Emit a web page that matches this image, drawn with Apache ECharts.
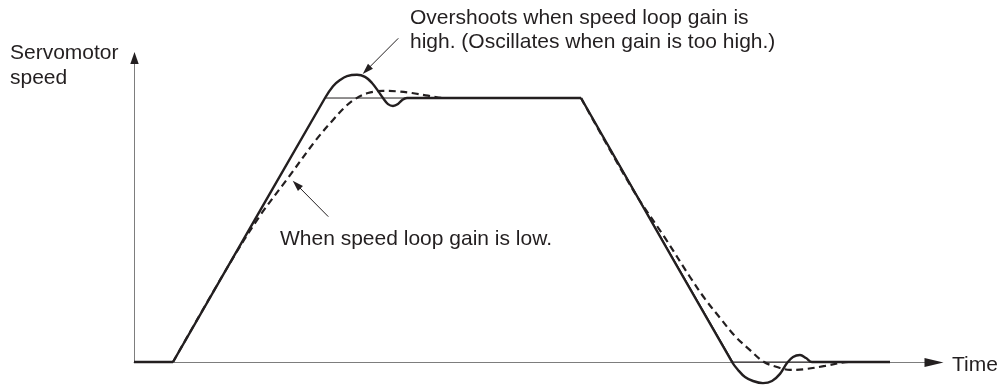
<!DOCTYPE html>
<html>
<head>
<meta charset="utf-8">
<script src="https://cdn.jsdelivr.net/npm/echarts@6/dist/echarts.min.js"></script>
<style>
  html, body { margin: 0; padding: 0; background: #ffffff; }
  #chart { width: 1000px; height: 385px; }
</style>
</head>
<body>
<div id="chart"></div>
<script>
// Speed profiles as [time, speed] pairs; speed 100 = commanded top speed.
const commandSpeed = [
  [0, 0], [3.9, 0], [19.1, 100], [44.7, 100], [59.9, 0], [75.6, 0]
];

// Response with a high speed loop gain, in pieces split at the sharp corners:
// standstill, acceleration with overshoot and ring, deceleration with undershoot.
const highGainStart = [[0, 0], [3.9, 0]];
const highGainAccel = [
  [3.9, 0], [19.1, 100], [19.9, 104.5], [20.6, 106.8], [21.3, 108.3],
  [22.3, 108.8], [23.1, 108.0], [23.8, 105.7], [24.4, 102.7], [24.9, 100],
  [25.4, 97.7], [25.9, 97.0], [26.4, 97.7], [26.8, 99.2], [27.3, 100], [44.7, 100]
];
const highGainDecel = [
  [44.7, 100], [59.8, 0], [60.4, -3.0], [61.1, -5.7], [61.9, -7.2], [62.9, -8.0],
  [63.8, -7.2], [64.6, -4.5], [65.3, -0.4], [65.9, 1.9], [66.6, 2.65],
  [67.2, 1.5], [67.8, 0], [75.6, 0]
];

// Response with a low speed loop gain: slow, lagging approach.
const lowGainStart = [[0, 0], [3.9, 0]];
const lowGainAccel = [
  [3.9, 0], [9.6, 37.5], [12.5, 54.9], [15.4, 69.7], [18.2, 84.1],
  [19.9, 91.7], [21.1, 96.6], [22.1, 99.6], [23.4, 101.9], [24.9, 102.7],
  [26.4, 102.5], [27.8, 101.9], [29.4, 100.9], [31.1, 100], [44.7, 100]
];
const lowGainDecel = [
  [44.7, 100], [49.9, 65.2], [53.1, 47.0], [55.6, 32.2], [57.1, 23.9],
  [58.6, 16.7], [60.1, 9.8], [61.6, 4.5], [63.0, 0], [64.3, -1.9],
  [65.6, -3.0], [67.1, -2.7], [69.1, -1.5], [71.6, 0], [75.6, 0]
];

const yAxisTitle = ['Servomotor', 'speed'];
const xAxisTitle = 'Time';
const highGainNote = ['Overshoots when speed loop gain is', 'high. (Oscillates when gain is too high.)'];
const lowGainNote = 'When speed loop gain is low.';

// Points on the curves that the callout arrows point at.
const highGainNoteTip = [22.87, 109.1];
const lowGainNoteTip = [15.87, 68.7];

const INK = '#231f20';
const AXIS_GREY = '#7d7d7d';
const FONT = '21px "Liberation Sans", Arial, Helvetica, sans-serif';
const X_MAX = 80;
const Y_MAX = 115.2;

// Join pieces into one data list with a gap between them, so each piece is
// smoothed on its own and the corners between pieces stay sharp.
function joinPieces(pieces) {
  const out = [];
  pieces.forEach(function (piece, i) {
    if (i > 0) out.push([piece[0][0], '-']);
    piece.forEach(function (p) { out.push(p); });
  });
  return out;
}

const chart = echarts.init(document.getElementById('chart'), null, { renderer: 'canvas' });

const axisCommon = {
  type: 'value',
  axisLabel: { show: false },
  axisTick: { show: false },
  splitLine: { show: false },
  axisLine: { show: true, lineStyle: { color: AXIS_GREY, width: 1 } }
};

chart.setOption({
  animation: false,
  backgroundColor: '#ffffff',
  grid: { left: 134, right: 66, top: 57.9, bottom: 23, containLabel: false },
  xAxis: Object.assign({}, axisCommon, { min: 0, max: X_MAX }),
  yAxis: Object.assign({}, axisCommon, { min: 0, max: Y_MAX }),
  series: [
    {
      name: 'Command',
      type: 'line',
      data: commandSpeed,
      showSymbol: false,
      clip: false,
      z: 2,
      lineStyle: { color: INK, width: 1 }
    },
    {
      name: 'Low gain',
      type: 'line',
      data: joinPieces([lowGainStart, lowGainAccel, lowGainDecel]),
      showSymbol: false,
      smooth: 0.35,
      connectNulls: false,
      clip: false,
      z: 3,
      lineStyle: { color: INK, width: 2.2, type: [7, 4.5] }
    },
    {
      name: 'High gain',
      type: 'line',
      data: joinPieces([highGainStart, highGainAccel, highGainDecel]),
      showSymbol: false,
      smooth: 0.35,
      connectNulls: false,
      clip: false,
      z: 4,
      lineStyle: { color: INK, width: 2.4, join: 'round' }
    }
  ]
});

// Filled triangular head with its tip at `tip`, pointing along unit (ux, uy).
function arrowHead(tip, ux, uy, headLen, headHalf) {
  const bx = tip[0] - ux * headLen, by = tip[1] - uy * headLen;
  return {
    type: 'polygon',
    z: 10,
    shape: { points: [tip, [bx - uy * headHalf, by + ux * headHalf], [bx + uy * headHalf, by - ux * headHalf]] },
    style: { fill: INK }
  };
}

// Callout arrow: thin shaft from a tail offset to a tip anchored on the chart.
function calloutArrow(tipData, tailOffset) {
  const tip = chart.convertToPixel({ gridIndex: 0 }, tipData);
  const tail = [tip[0] + tailOffset[0], tip[1] + tailOffset[1]];
  const dx = tip[0] - tail[0], dy = tip[1] - tail[1];
  const len = Math.sqrt(dx * dx + dy * dy);
  const ux = dx / len, uy = dy / len;
  const headLen = 11;
  return [
    {
      type: 'line',
      z: 10,
      shape: { x1: tail[0], y1: tail[1], x2: tip[0] - ux * (headLen - 2), y2: tip[1] - uy * (headLen - 2) },
      style: { stroke: INK, lineWidth: 1 }
    },
    arrowHead(tip, ux, uy, headLen, 3.5)
  ];
}

function label(text, x, y) {
  return {
    type: 'text',
    z: 10,
    style: { text: text, x: x, y: y, font: FONT, fill: INK, align: 'left', verticalAlign: 'middle' }
  };
}

// Arrowheads at the ends of both axes, centred on the axis end points.
const xEnd = chart.convertToPixel({ gridIndex: 0 }, [X_MAX, 0]);
const yEnd = chart.convertToPixel({ gridIndex: 0 }, [0, Y_MAX]);
const xArrowLen = 19, yArrowLen = 12;

const graphics = []
  .concat([
    arrowHead([xEnd[0] + xArrowLen / 2, xEnd[1] + 0.5], 1, 0, xArrowLen, 4.5),
    arrowHead([yEnd[0] + 0.5, yEnd[1] - yArrowLen / 2], 0, -1, yArrowLen, 4.2)
  ])
  .concat(calloutArrow(highGainNoteTip, [35.6, -35.7]))
  .concat(calloutArrow(lowGainNoteTip, [35.6, 36]))
  .concat([
    label(yAxisTitle[0], 10, 53.7),
    label(yAxisTitle[1], 10, 78.7),
    label(highGainNote[0], 410, 18.7),
    label(highGainNote[1], 410, 42.4),
    label(lowGainNote, 280, 239.4),
    label(xAxisTitle, 952, 365)
  ]);

chart.setOption({ graphic: graphics });
</script>
</body>
</html>
